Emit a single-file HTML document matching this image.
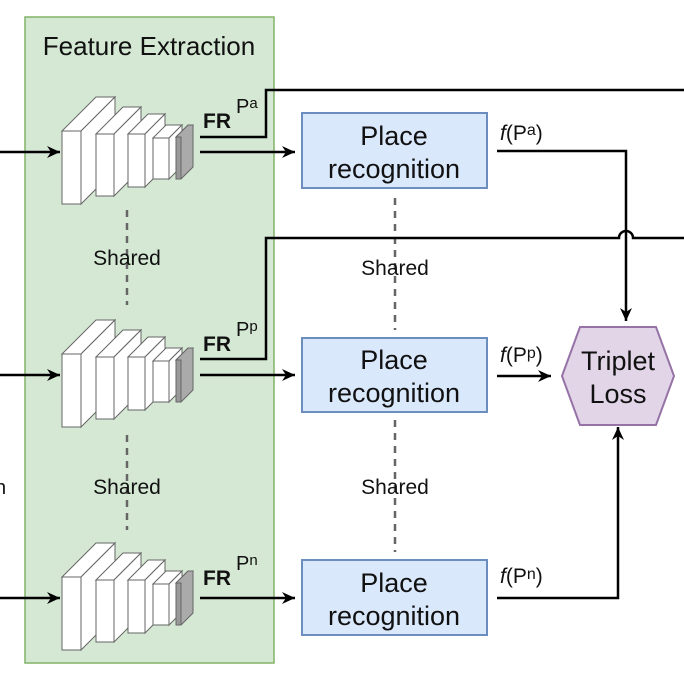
<!DOCTYPE html>
<html><head><meta charset="utf-8"><style>
html,body{margin:0;padding:0;background:#fff;}
svg{display:block;font-family:"Liberation Sans",sans-serif;}
</style></head><body>
<svg width="684" height="685" viewBox="0 0 684 685" xmlns="http://www.w3.org/2000/svg">
<defs>
<marker id="ah" markerWidth="14" markerHeight="14" refX="13" refY="6" orient="auto" markerUnits="userSpaceOnUse">
<path d="M0,0 L13,6 L0,12 L4,6 Z" fill="#000"/>
</marker>
<g id="cnn" stroke="#666" stroke-width="1">
<polygon points="62,577 96,543 115,543 81,577" fill="#fff"/>
<polygon points="81,577 115,543 115,616 81,650" fill="#fff"/>
<rect x="62" y="577" width="19" height="73" fill="#fff"/>
<polygon points="96,580 123,553 141,553 114,580" fill="#fff"/>
<polygon points="114,580 141,553 141,615 114,642" fill="#fff"/>
<rect x="96" y="580" width="18" height="62" fill="#fff"/>
<polygon points="128,580 148,560 165,560 145,580" fill="#fff"/>
<polygon points="145,580 165,560 165,613 145,633" fill="#fff"/>
<rect x="128" y="580" width="17" height="53" fill="#fff"/>
<polygon points="153,584 166,571 182,571 169,584" fill="#fff"/>
<polygon points="169,584 182,571 182,612 169,625" fill="#fff"/>
<rect x="153" y="584" width="16" height="41" fill="#fff"/>
<polygon points="176,583 188,571 193,571 181,583" fill="#999"/>
<polygon points="176,583 188,571 193,571 193,613 181,625 176,625" fill="#aaa"/>
<rect x="176" y="583" width="5" height="42" fill="#999"/>
</g>
</defs>

<rect x="25" y="17" width="249" height="646" fill="#d5e8d4" stroke="#82b366" stroke-width="1.5"/>
<text x="149" y="55" font-size="26" text-anchor="middle" fill="#111">Feature Extraction</text>

<use href="#cnn" transform="translate(0,-446)"/>
<use href="#cnn" transform="translate(0,-223)"/>
<use href="#cnn"/>

<g stroke="#666" stroke-width="2.5" stroke-dasharray="7,6">
<line x1="127" y1="210" x2="127" y2="305"/>
<line x1="127" y1="435" x2="127" y2="530"/>
<line x1="395" y1="198" x2="395" y2="330"/>
<line x1="395" y1="420" x2="395" y2="552"/>
</g>
<g font-size="21" text-anchor="middle" fill="#111">
<text x="127" y="265">Shared</text>
<text x="127" y="494">Shared</text>
<text x="395" y="275">Shared</text>
<text x="395" y="494">Shared</text>
</g>
<text x="-5" y="494" font-size="20" fill="#111">n</text>

<g stroke="#000" stroke-width="2.5" fill="none">
<line x1="0" y1="152" x2="60" y2="152" marker-end="url(#ah)"/>
<line x1="0" y1="375" x2="60" y2="375" marker-end="url(#ah)"/>
<line x1="0" y1="598" x2="60" y2="598" marker-end="url(#ah)"/>
<line x1="200" y1="152" x2="295" y2="152" marker-end="url(#ah)"/>
<line x1="200" y1="375" x2="295" y2="375" marker-end="url(#ah)"/>
<line x1="200" y1="598" x2="295" y2="598" marker-end="url(#ah)"/>
<polyline points="200,137 266,137 266,90 684,90"/>
<path d="M200,359 L266,359 L266,238 L619,238 A7,7 0 0 1 633,238 L684,238"/>
<polyline points="497,151 626,151 626,321" marker-end="url(#ah)"/>
<line x1="497" y1="376" x2="551" y2="376" marker-end="url(#ah)"/>
<polyline points="497,598 618,598 618,427" marker-end="url(#ah)"/>
</g>

<g font-size="21" fill="#111">
<text x="203" y="128" font-weight="bold">FR</text><text x="236" y="113" font-size="20">P<tspan font-size="15" dy="-5">a</tspan></text>
<text x="203" y="351" font-weight="bold">FR</text><text x="236" y="336" font-size="20">P<tspan font-size="15" dy="-5">p</tspan></text>
<text x="203" y="585" font-weight="bold">FR</text><text x="236" y="570" font-size="20">P<tspan font-size="15" dy="-5">n</tspan></text>
</g>

<g fill="#dae8fc" stroke="#6c8ebf" stroke-width="2">
<rect x="302" y="113" width="185" height="75"/>
<rect x="302" y="338" width="185" height="74"/>
<rect x="302" y="560" width="185" height="75"/>
</g>
<g font-size="27" text-anchor="middle" fill="#111">
<text x="394" y="145">Place</text><text x="394" y="178">recognition</text>
<text x="394" y="369">Place</text><text x="394" y="402">recognition</text>
<text x="394" y="592">Place</text><text x="394" y="625">recognition</text>
</g>

<g font-size="21" fill="#111">
<text x="500" y="140"><tspan font-style="italic">f</tspan>(P<tspan font-size="16" dy="-5">a</tspan><tspan dy="5">)</tspan></text>
<text x="500" y="362"><tspan font-style="italic">f</tspan>(P<tspan font-size="16" dy="-4">p</tspan><tspan dy="4">)</tspan></text>
<text x="500" y="583"><tspan font-style="italic">f</tspan>(P<tspan font-size="16" dy="-4">n</tspan><tspan dy="4">)</tspan></text>
</g>

<polygon points="562,376 580,327 656,327 674,376 656,425 580,425" fill="#e1d5e7" stroke="#9673a6" stroke-width="2"/>
<text x="618" y="370" font-size="27" text-anchor="middle" fill="#111">Triplet</text>
<text x="618" y="403" font-size="27" text-anchor="middle" fill="#111">Loss</text>
</svg>
</body></html>
